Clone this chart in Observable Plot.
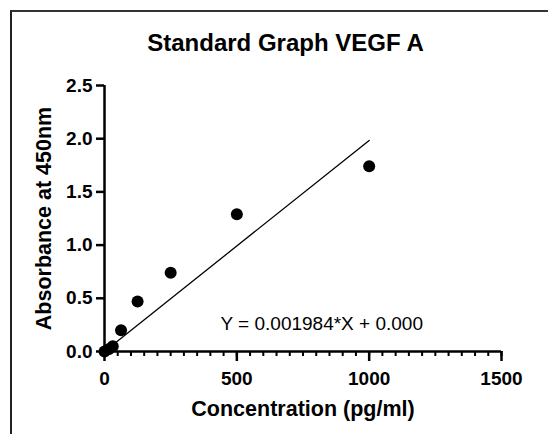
<!DOCTYPE html>
<html>
<head>
<meta charset="utf-8">
<script src="https://cdn.jsdelivr.net/npm/d3@7"></script>
<script src="https://cdn.jsdelivr.net/npm/@observablehq/plot@0.6"></script>
<style>
  html, body { margin: 0; padding: 0; background: white; }
  #wrap { position: relative; width: 548px; height: 434px; overflow: hidden; }
  #frame { position: absolute; left: 10px; top: 10px; right: -10px; bottom: -10px; border-top: 2px solid #333; border-left: 2px solid #222; pointer-events: none; }
  #wrap svg { position: absolute; left: 0; top: 0; }
</style>
</head>
<body>
<div id="wrap"><div id="frame"></div></div>
<script>
const concentration = [0, 15.6, 31.25, 62.5, 125, 250, 500, 1000];
const absorbance = [0.0, 0.02, 0.05, 0.20, 0.47, 0.74, 1.29, 1.74];
const fitX = [0, 1000];
const fitY = [0, 1.984];
const xTicks = [0, 500, 1000, 1500];
const xMinorTicks = d3.range(0, 1501, 50);
const yTicks = [0, 0.5, 1.0, 1.5, 2.0, 2.5];
const titleText = "Standard Graph VEGF A";
const xLabel = "Concentration (pg/ml)";
const yLabel = "Absorbance at 450nm";
const equation = "Y = 0.001984*X + 0.000";

const points = concentration.map((c, i) => ({x: c, y: absorbance[i]}));
const fit = fitX.map((x, i) => ({x, y: fitY[i]}));

const chart = Plot.plot({
  width: 548,
  height: 434,
  marginLeft: 104,
  marginRight: 47,
  marginTop: 85,
  marginBottom: 83,
  x: {domain: [0, 1500]},
  y: {domain: [0, 2.5]},
  style: {fontFamily: "'Liberation Sans', Arial, sans-serif", background: "transparent", color: "black"},
  marks: [
    Plot.axisY(yTicks, {tickSize: 8, tickPadding: 4, tickFormat: d => d.toFixed(1), fontSize: 19, fontWeight: "bold", strokeWidth: 2.5, label: null}),
    Plot.axisX(xMinorTicks, {tickSize: 5, fill: "none", strokeWidth: 2, label: null}),
    Plot.axisX(xTicks, {tickSize: 10, tickPadding: 10, tickFormat: d => String(d), fontSize: 19, fontWeight: "bold", strokeWidth: 2.5, label: null}),
    Plot.ruleX([0], {y1: 0, y2: 2.5, strokeWidth: 2.5}),
    Plot.ruleY([0], {x1: 0, x2: 1500, strokeWidth: 2.5}),
    Plot.line(fit, {x: "x", y: "y", stroke: "black", strokeWidth: 1.3}),
    Plot.dot(points, {x: "x", y: "y", r: 6, fill: "black"}),
    Plot.text([titleText], {text: d => d, frameAnchor: "top", dx: -17.5, dy: -52, lineAnchor: "top", fontSize: 24, fontWeight: "bold"}),
    Plot.text([xLabel], {text: d => d, frameAnchor: "bottom", dy: 49, lineAnchor: "top", fontSize: 21.5, fontWeight: "bold"}),
    Plot.text([yLabel], {text: d => d, frameAnchor: "left", dx: -69, rotate: -90, textAnchor: "middle", lineAnchor: "top", fontSize: 21.5, fontWeight: "bold"}),
    Plot.text([equation], {text: d => d, frameAnchor: "bottom-left", dx: 116, dy: -35.5, lineAnchor: "top", textAnchor: "start", fontSize: 19})
  ]
});
document.getElementById("wrap").prepend(chart);
</script>
</body>
</html>
